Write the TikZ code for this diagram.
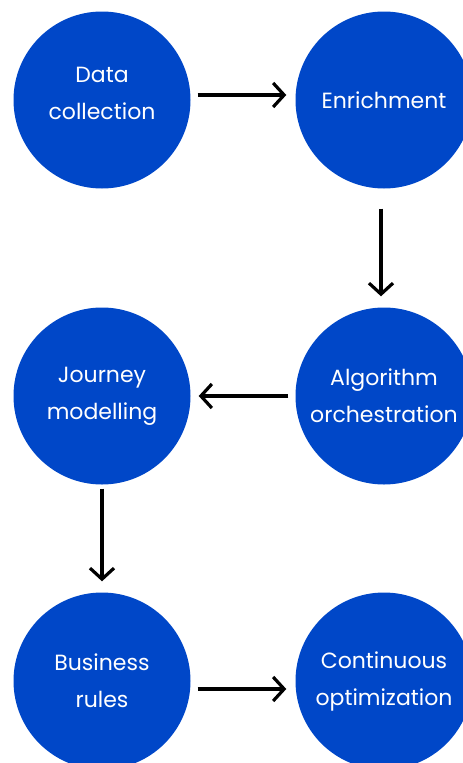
\documentclass[tikz,border=0pt]{standalone}
\usepackage{fontspec}
\setmainfont{Poppins}
\usetikzlibrary{arrows.meta}
\definecolor{stepblue}{HTML}{0047C8}
\tikzset{
  stepcircle/.style={circle, fill=stepblue, draw=none, minimum size=177pt, inner sep=0pt,
    text=white, align=center, font=\fontsize{22}{37}\selectfont},
  steptext/.style={text=white, align=center, inner sep=0pt, font=\fontsize{22}{37}\selectfont},
  flowarrow/.style={line width=3.2pt, -{Straight Barb[length=11pt,width=24pt,line width=3.2pt]}},
}
\begin{document}
\begin{tikzpicture}[x=1pt,y=-1pt]
\useasboundingbox (0,0) rectangle (463,763);
\begin{scope}
\clip (0,0) rectangle (463,763);
\node[stepcircle] (a) at (102,100) {};
\node[steptext] (at) at (102,93) {Data\\collection};
\node[stepcircle] (b) at (384,100) {Enrichment};
\node[stepcircle] (c) at (384,396) {Algorithm\\orchestration};
\node[stepcircle] (d) at (102,396) {Journey\\modelling};
\node[stepcircle] (e) at (102,681) {Business\\rules};
\node[stepcircle] (f) at (384,681) {Continuous\\optimization};
\end{scope}
\draw[flowarrow] ([shift={(7,-5)}]a.east) -- ([shift={(-9,-5)}]b.west);
\draw[flowarrow] ([shift={(-3,20)}]b.south) -- ([shift={(-3,-11)}]c.north);
\draw[flowarrow] ([shift={(-7,0)}]c.west) -- ([shift={(8,0)}]d.east);
\draw[flowarrow] ([shift={(0,4)}]d.south) -- ([shift={(0,-11)}]e.north);
\draw[flowarrow] ([shift={(7,8)}]e.east) -- ([shift={(-9,8)}]f.west);
\end{tikzpicture}
\end{document}
